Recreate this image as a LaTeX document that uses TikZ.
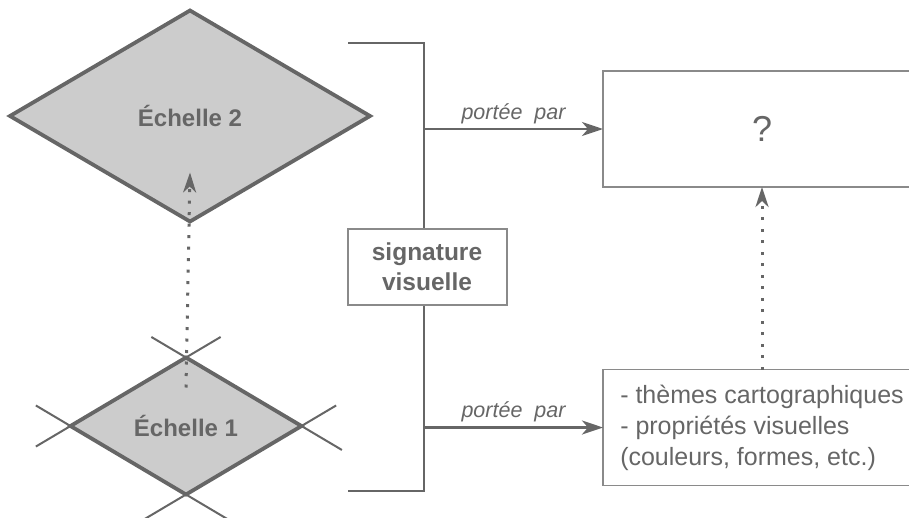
\documentclass[tikz,border=0pt]{standalone}
\usepackage{fontspec}
\setmainfont{Liberation Sans}
\usepackage{tikz}
\usetikzlibrary{positioning, arrows.meta, shapes.geometric, calc}
\definecolor{LineGrey}{HTML}{666666}
\definecolor{BoxGrey}{HTML}{8A8A8A}
\definecolor{FillGrey}{HTML}{CCCCCC}

\begin{document}
\begin{tikzpicture}[x=1pt, y=-1pt,
            level/.style={diamond, draw=LineGrey, line width=3.8pt, fill=FillGrey, text=LineGrey, inner sep=0pt, outer sep=0pt, font=\bfseries\fontsize{24}{27}\selectfont},
            extend/.style={draw=LineGrey, line width=2pt},
            bracket/.style={draw=LineGrey, line width=2.7pt},
            sigbox/.style={draw=BoxGrey, line width=2pt, fill=white, text=LineGrey, align=center, minimum width=159pt, minimum height=76pt, font=\bfseries\fontsize{24.5}{30}\selectfont},
            resbox/.style={draw=BoxGrey, line width=1.6pt, text=LineGrey, minimum width=318pt, minimum height=116pt, outer sep=0pt},
            arrow/.style={-{Stealth[length=21pt, width=14pt, inset=6pt]}, LineGrey, line width=2.8pt},
            dotarrow/.style={-{Stealth[length=20pt, width=13pt, inset=6pt]}, LineGrey, line width=3pt, dash pattern=on 3pt off 8.5pt},
            via/.style={text=LineGrey, inner sep=4pt, font=\itshape\fontsize{21.5}{24}\selectfont}
        ]
            \clip (0,0) rectangle (909,517);

            % scales
            \node[level, minimum width=360pt, minimum height=211pt] (lvl2) at (190,116) {Échelle 2};
            \node[level, minimum width=231pt, minimum height=137pt] (lvl1) at (186,426) {Échelle 1};

            % crossing lines through the lower diamond
            \draw[extend] ($(lvl1.west)!-0.3!(lvl1.north)$) -- ($(lvl1.north)!-0.3!(lvl1.west)$);
            \draw[extend] ($(lvl1.north)!-0.3!(lvl1.east)$) -- ($(lvl1.east)!-0.35!(lvl1.north)$);
            \draw[extend] ($(lvl1.east)!-0.3!(lvl1.south)$) -- ($(lvl1.south)!-0.4!(lvl1.east)$);
            \draw[extend] ($(lvl1.south)!-0.4!(lvl1.west)$) -- ($(lvl1.west)!-0.3!(lvl1.south)$);

            \draw[dotarrow] ($(lvl1.north)+(0,30)$) -- ($(lvl2.south)+(0,-49)$);

            % visual signature and its bracket
            \node[sigbox] (sig) at (427,267) {signature\\visuelle};
            \coordinate (spine) at (424,0);
            \coordinate (topend) at (348,43);
            \coordinate (botend) at (348,491);

            \node[resbox, font=\fontsize{36}{40}\selectfont] (res) at (762,129) {?};
            \node[resbox, align=left, font=\fontsize{25}{31}\selectfont] (props) at (762,427.5) {- thèmes cartographiques\\- propriétés visuelles\\(couleurs, formes, etc.)};

            \draw[bracket] (topend) -- (topend -| spine) -- (sig.north -| spine);
            \draw[bracket] (botend) -- (botend -| spine) -- (sig.south -| spine);

            \draw[arrow] (res.west -| spine) -- node[via, above] {portée\ \ par} (res.west);
            \draw[arrow] (props.west -| spine) -- node[via, above] {portée\ \ par} (props.west);

            \draw[dotarrow] (props.north) -- (res.south);

        \end{tikzpicture}
\end{document}
